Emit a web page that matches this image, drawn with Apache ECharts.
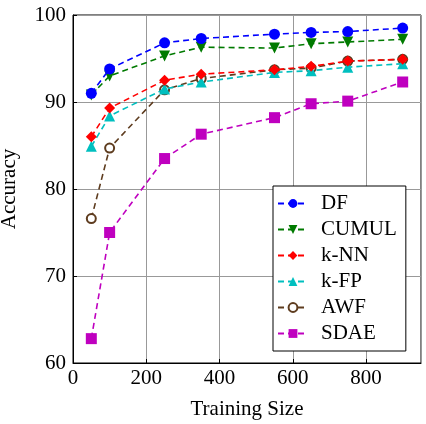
<!DOCTYPE html>
<html><head><meta charset="utf-8">
<script src="https://cdn.jsdelivr.net/npm/echarts@6/dist/echarts.min.js"></script>
<style>html,body{margin:0;padding:0;background:#fff}#c{width:426px;height:424px}</style>
</head><body><div id="c"></div>
<script>
const trainingSizes = [50, 100, 250, 350, 550, 650, 750, 900];
const seriesNames = ['DF', 'CUMUL', 'k-NN', 'k-FP', 'AWF', 'SDAE'];
const dfValues    = [91.0, 93.8, 96.8, 97.3, 97.8, 98.0, 98.1, 98.5];
const cumulValues = [90.8, 93.0, 95.3, 96.3, 96.2, 96.7, 96.9, 97.2];
const knnValues   = [86.0, 89.3, 92.5, 93.2, 93.7, 94.1, 94.7, 94.9];
const kfpValues   = [84.9, 88.4, 91.5, 92.3, 93.4, 93.6, 94.0, 94.4];
const awfValues   = [76.6, 84.7, 91.4, 92.7, 93.7, 93.9, 94.7, 94.9];
const sdaeValues  = [62.8, 75.0, 83.5, 86.3, 88.2, 89.8, 90.1, 92.3];
const xTicks = [0, 200, 400, 600, 800];
const yTicks = [60, 70, 80, 90, 100];

const font = 'Liberation Serif';
const styles = [
  {color: '#0000ff', symbol: 'circle', size: 11},
  {color: '#007a00', symbol: 'triangle', size: 11, rotate: 180},
  {color: '#ff0000', symbol: 'diamond', size: 11},
  {color: '#00bfbf', symbol: 'triangle', size: 11},
  {color: '#5e3c1f', symbol: 'emptyCircle', size: 9},
  {color: '#bf00bf', symbol: 'rect', size: 11}
];
const allValues = [dfValues, cumulValues, knnValues, kfpValues, awfValues, sdaeValues];

const series = seriesNames.map((n, i) => ({
  name: n,
  type: 'line',
  data: trainingSizes.map((x, j) => [x, allValues[i][j]]),
  symbol: styles[i].symbol,
  symbolSize: styles[i].size,
  symbolRotate: styles[i].rotate || 0,
  z: 10 - i,
  lineStyle: {color: styles[i].color, width: 1.6, type: [6, 4]},
  itemStyle: styles[i].symbol === 'emptyCircle'
    ? {color: styles[i].color, borderWidth: 3.2}
    : {color: styles[i].color, borderColor: styles[i].color, borderWidth: 0},
  animation: false
}));

const chart = echarts.init(document.getElementById('c'));
chart.setOption({
  animation: false,
  backgroundColor: '#fff',
  grid: {left: 73, right: 5, top: 15, bottom: 61, show: true, borderColor: '#000', borderWidth: 1,
    containLabel: false, outerBoundsMode: 'none'},
  legend: {
    orient: 'vertical', left: 273, top: 186,
    backgroundColor: '#fff', borderColor: '#000', borderWidth: 1,
    padding: [7, 9, 7, 4], itemGap: 5, itemWidth: 30, itemHeight: 11,
    textStyle: {fontFamily: font, fontSize: 21, color: '#000', padding: [0, 0, 0, 8]},
    data: seriesNames
  },
  xAxis: {
    type: 'value', min: 0, max: 950, interval: 200,
    name: 'Training Size', nameLocation: 'middle', nameGap: 36,
    nameTextStyle: {fontFamily: font, fontSize: 21, color: '#000'},
    axisLine: {lineStyle: {color: '#000'}},
    axisTick: {inside: true, length: 4, lineStyle: {color: '#000'}},
    axisLabel: {fontFamily: font, fontSize: 21, color: '#000', margin: 5, showMaxLabel: false,
      formatter: v => xTicks.includes(v) ? String(v) : ''},
    splitLine: {show: true, lineStyle: {color: '#999', width: 1}}
  },
  yAxis: {
    type: 'value', min: 60, max: 100, interval: 10,
    name: 'Accuracy', nameLocation: 'middle', nameGap: 53, nameRotate: 90,
    nameTextStyle: {fontFamily: font, fontSize: 21, color: '#000'},
    axisLine: {show: true, lineStyle: {color: '#000'}},
    axisTick: {show: true, inside: true, length: 4, lineStyle: {color: '#000'}},
    axisLabel: {fontFamily: font, fontSize: 21, color: '#000', margin: 7,
      formatter: v => yTicks.includes(v) ? String(v) : ''},
    splitLine: {show: true, lineStyle: {color: '#999', width: 1}}
  },
  series: series
});
</script></body></html>
